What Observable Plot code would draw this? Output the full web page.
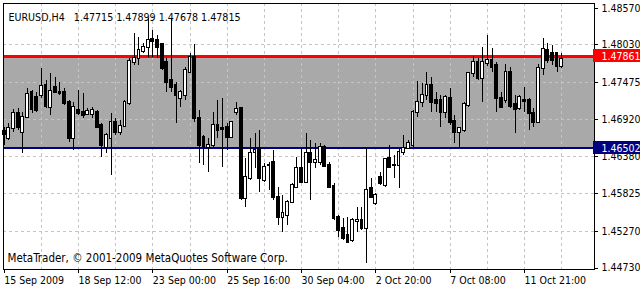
<!DOCTYPE html>
<html><head><meta charset="utf-8">
<script src="https://cdn.jsdelivr.net/npm/d3@7"></script>
<script src="https://cdn.jsdelivr.net/npm/@observablehq/plot@0.6"></script>
<style>
body{margin:0;background:#fff}
svg{display:block}
svg rect, svg line, svg path{shape-rendering:crispEdges}
</style>
</head><body><div id="chart"></div>
<script>
// EURUSD H4 candles (bar 0 = 15 Sep 2009 20:00 ... bar 120 = 13 Oct 2009 04:00)
const open = [1.46753,1.46650,1.46798,1.47010,1.46729,1.46950,1.47320,1.47256,1.47281,1.47429,
1.47108,1.47404,1.47325,1.47330,1.47172,1.46640,1.47059,1.47034,1.47005,1.46995,
1.47034,1.46837,1.46516,1.46640,1.46886,1.46739,1.46827,1.47158,1.47774,1.47823,
1.47932,1.47996,1.48104,1.48094,1.48030,1.47774,1.47503,1.47429,1.47232,1.47281,
1.47626,1.47848,1.46936,1.46664,1.46516,1.46541,1.46837,1.46793,1.46812,1.46664,
1.47034,1.47084,1.45753,1.46048,1.46433,1.46492,1.46024,1.46240,1.46295,1.45777,
1.45481,1.45506,1.45703,1.45925,1.46196,1.45999,1.46418,1.46285,1.46295,1.46516,
1.46246,1.45940,1.45481,1.45309,1.45210,1.45136,1.45420,1.45432,1.45309,1.45900,
1.45679,1.46073,1.45950,1.46344,1.46250,1.46246,1.46443,1.46502,1.46541,1.47034,
1.47172,1.47281,1.47429,1.47207,1.47207,1.47034,1.47241,1.46896,1.46739,1.46763,
1.47133,1.47601,1.47774,1.47527,1.47749,1.47798,1.47725,1.47232,1.47207,1.47616,
1.47143,1.47084,1.47202,1.47207,1.47010,1.46877,1.47685,1.47946,1.47897,1.47897,
1.47715];
const high = [1.46812,1.46862,1.47069,1.47084,1.47034,1.47379,1.47355,1.47330,1.47675,1.47503,
1.47601,1.47552,1.47478,1.47379,1.47207,1.47182,1.47355,1.47306,1.47084,1.47108,
1.47059,1.46862,1.46714,1.47010,1.46936,1.46911,1.47207,1.47823,1.48193,1.48144,
1.48045,1.48415,1.48242,1.48168,1.48045,1.47823,1.48405,1.47478,1.47355,1.47700,
1.47897,1.48030,1.47059,1.46689,1.46640,1.47034,1.47207,1.47232,1.46862,1.46886,
1.47182,1.47108,1.46344,1.46640,1.46714,1.46763,1.46270,1.46295,1.46467,1.45925,
1.45802,1.45728,1.45975,1.46369,1.46492,1.46714,1.46615,1.46566,1.46566,1.46541,
1.46295,1.45975,1.45506,1.45457,1.45481,1.45457,1.45629,1.45629,1.46492,1.46048,
1.45826,1.46147,1.46344,1.46541,1.46393,1.46492,1.46689,1.46615,1.47059,1.47488,
1.47453,1.47616,1.47552,1.47330,1.47281,1.47281,1.47379,1.46985,1.46812,1.47172,
1.47626,1.47862,1.47823,1.47996,1.48168,1.47971,1.47774,1.47330,1.47734,1.47700,
1.47281,1.47281,1.47404,1.47232,1.47084,1.47734,1.48129,1.48045,1.48020,1.47922,
1.47899];
const low = [1.46541,1.46615,1.46739,1.46763,1.46418,1.46936,1.47010,1.47034,1.47232,1.47084,
1.46985,1.47306,1.47281,1.47133,1.46591,1.46467,1.46985,1.46936,1.46985,1.46936,
1.46788,1.46369,1.46418,1.46098,1.46689,1.46689,1.46812,1.47133,1.47725,1.47725,
1.47897,1.47848,1.47848,1.47823,1.47651,1.47330,1.47330,1.46862,1.47108,1.47207,
1.47601,1.46886,1.46270,1.46246,1.46147,1.46516,1.46640,1.46221,1.46467,1.46650,
1.46985,1.45728,1.45629,1.46024,1.46196,1.45851,1.45999,1.45876,1.45728,1.45358,
1.45260,1.45358,1.45679,1.45900,1.45975,1.45975,1.45728,1.46196,1.46246,1.46221,
1.45900,1.45432,1.45186,1.45136,1.45087,1.45112,1.45260,1.45284,1.44791,1.45753,
1.45654,1.45950,1.45925,1.46196,1.46048,1.45900,1.46393,1.46492,1.46516,1.46960,
1.47108,1.47207,1.47034,1.47034,1.46812,1.46936,1.46837,1.46566,1.46516,1.46739,
1.47108,1.47552,1.47503,1.47182,1.47715,1.47626,1.47034,1.47084,1.47158,1.47084,
1.46714,1.47059,1.47034,1.46763,1.46812,1.46862,1.47577,1.47749,1.47725,1.47626,
1.47678];
const close = [1.46704,1.46798,1.47010,1.46812,1.46960,1.47296,1.47074,1.47059,1.47419,1.47123,
1.47340,1.47330,1.47315,1.47158,1.46640,1.47108,1.47010,1.46985,1.47044,1.47059,
1.46812,1.46541,1.46689,1.46886,1.46739,1.46827,1.47182,1.47789,1.47823,1.47946,
1.47996,1.48094,1.48080,1.47996,1.47675,1.47478,1.47404,1.47281,1.47330,1.47651,
1.47848,1.46936,1.46541,1.46516,1.46541,1.46837,1.46763,1.46783,1.46664,1.46877,
1.47074,1.45753,1.46073,1.46418,1.46467,1.46048,1.46221,1.46250,1.45777,1.45481,
1.45531,1.45703,1.45950,1.46196,1.45999,1.46418,1.46295,1.46320,1.46516,1.46236,
1.45925,1.45457,1.45284,1.45161,1.45112,1.45432,1.45432,1.45309,1.45876,1.45777,
1.45802,1.45975,1.46334,1.46221,1.46240,1.46443,1.46492,1.46566,1.47034,1.47172,
1.47281,1.47429,1.47172,1.47158,1.47034,1.47256,1.46877,1.46729,1.46788,1.47143,
1.47601,1.47774,1.47527,1.47764,1.47798,1.47700,1.47232,1.47108,1.47616,1.47123,
1.47074,1.47256,1.47192,1.47010,1.46877,1.47685,1.47961,1.47798,1.47798,1.47715,
1.47815];

const timeLabels = ["15 Sep 2009","18 Sep 12:00","23 Sep 00:00","25 Sep 16:00","30 Sep 04:00","2 Oct 20:00","7 Oct 08:00","11 Oct 21:00"];
const labelBars = [0,16,32,48,64,80,96,112];
const priceTicks = [1.48570,1.48030,1.47475,1.46920,1.46380,1.45825,1.45270,1.44730];
const resistance = 1.47861;
const support = 1.46502;
const symbol = "EURUSD,H4";
const lastBar = [1.47715,1.47899,1.47678,1.47815];
const copyright = "MetaTrader, \u00a9 2001-2009 MetaQuotes Software Corp.";

const bars = open.map((o,i)=>({i, open:o, high:high[i], low:low[i], close:close[i]}));
const bull = bars.filter(d=>d.close>=d.open);
const bear = bars.filter(d=>d.close<d.open);
const gridBars = d3.range(8, bars.length, 8);
const gridPrices = priceTicks.slice(1, -1);
const fmt = d3.format(".5f");
const xDomain = [-0.15, 127.06];
const yDomain = [1.44708, 1.48641];
const font = "Tahoma, 'DejaVu Sans Condensed', 'Liberation Sans', Arial, sans-serif";
const title = symbol + "\u00a0\u00a0 " + lastBar.map(fmt).join(" ");

const chart = Plot.plot({
  width: 640, height: 291,
  marginLeft: 3, marginRight: 46, marginTop: 3, marginBottom: 22,
  style: {fontFamily: font, fontSize: "11px", background: "white", color: "black"},
  x: {domain: xDomain},
  y: {domain: yDomain},
  marks: [
    Plot.rect([{lo: support, hi: resistance}], {y1: "lo", y2: "hi", fill: "#a9a9a9"}),
    Plot.gridX({ticks: gridBars, stroke: "#c4c4c4", strokeOpacity: 1, strokeDasharray: "3,3"}),
    Plot.gridY({ticks: gridPrices, stroke: "#c4c4c4", strokeOpacity: 1, strokeDasharray: "3,3"}),
    Plot.ruleY([resistance], {stroke: "#ff0000", strokeWidth: 2.5}),
    Plot.ruleY([support], {stroke: "#000080", strokeWidth: 2}),
    Plot.ruleX(bars, {x: "i", y1: "low", y2: "high", stroke: "black", strokeWidth: 1}),
    Plot.rect(bull, {x1: d=>d.i-0.3, x2: d=>d.i+0.3, y1: "open", y2: "close", fill: "white", stroke: "black", strokeWidth: 1, insetTop: -0.5, insetBottom: -0.5}),
    Plot.rect(bear, {x1: d=>d.i-0.3, x2: d=>d.i+0.3, y1: "open", y2: "close", fill: "black", stroke: "black", strokeWidth: 1, insetTop: -0.5, insetBottom: -0.5}),
    Plot.frame({stroke: "black"}),
    Plot.axisX({ticks: labelBars, tickFormat: d => timeLabels[labelBars.indexOf(d)], textAnchor: "start", tickSize: 4, tickPadding: 3, label: null, fontSize: 10.5}),
    Plot.axisY({anchor: "right", ticks: priceTicks, tickFormat: fmt, tickSize: 3, tickPadding: 4, label: null, fontSize: 10.5}),
    Plot.rect([resistance], {x1: xDomain[1], x2: xDomain[1], y1: d=>d, y2: d=>d, insetTop: -6.5, insetBottom: -6.5, insetRight: -46, insetLeft: -1, fill: "#ff0000"}),
    Plot.text([resistance], {x: xDomain[1], y: d=>d, text: fmt, textAnchor: "start", dx: 7, fill: "white", fontSize: 10.5}),
    Plot.rect([support], {x1: xDomain[1], x2: xDomain[1], y1: d=>d, y2: d=>d, insetTop: -6.5, insetBottom: -6.5, insetRight: -46, insetLeft: -1, fill: "#000080"}),
    Plot.text([support], {x: xDomain[1], y: d=>d, text: fmt, textAnchor: "start", dx: 7, fill: "white", fontSize: 10.5}),
    Plot.text([title], {frameAnchor: "top-left", dx: 5, dy: 10, textAnchor: "start", fill: "black", fontSize: 10.6}),
    Plot.text([copyright], {frameAnchor: "bottom-left", dx: 4, dy: -8, textAnchor: "start", fill: "black", fontSize: 11.5})
  ]
});
document.getElementById("chart").append(chart);
</script>
</body></html>
